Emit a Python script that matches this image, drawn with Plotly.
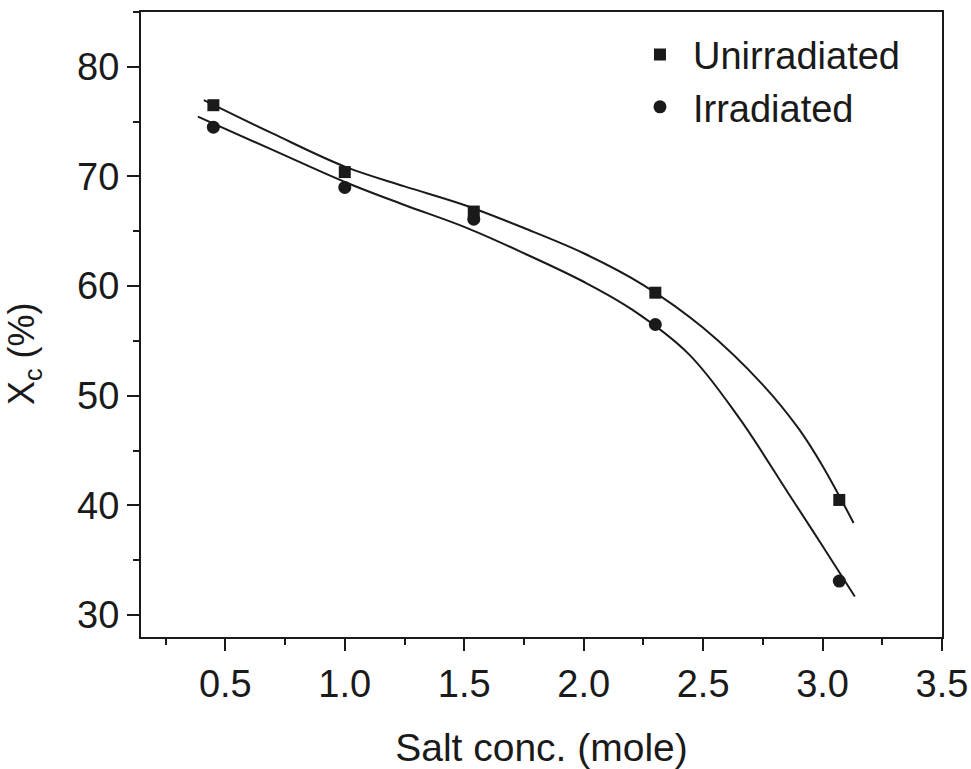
import plotly.graph_objects as go

# measured data points
salt_x = [0.45, 1.0, 1.54, 2.3, 3.07]
unirr_y = [76.5, 70.4, 66.8, 59.4, 40.5]
irr_y = [74.5, 69.0, 66.1, 56.5, 33.1]

# fitted curves
fit_unirr_x = [0.41, 0.7, 1.0, 1.25, 1.5, 1.75, 2.0, 2.25, 2.5, 2.75, 2.9, 3.0, 3.13]
fit_unirr_y = [76.97, 73.9, 70.9, 69.1, 67.4, 65.3, 63.0, 60.1, 56.2, 51.0, 47.0, 43.6, 38.4]
fit_irr_x = [0.385, 0.7, 1.0, 1.25, 1.5, 1.75, 2.0, 2.2, 2.44, 2.65, 2.86, 3.0, 3.135]
fit_irr_y = [75.45, 72.4, 69.5, 67.4, 65.4, 63.0, 60.4, 57.9, 53.8, 48.0, 41.0, 36.3, 31.7]

x_ticks = [0.5, 1.0, 1.5, 2.0, 2.5, 3.0, 3.5]
y_ticks = [30, 40, 50, 60, 70, 80]

FONT = "Liberation Sans, Arial, Helvetica, sans-serif"
INK = "#1a1a1a"

fig = go.Figure()
fig.add_trace(go.Scatter(x=fit_unirr_x, y=fit_unirr_y, mode="lines",
                         line=dict(color=INK, width=2, shape="spline", smoothing=1.0),
                         showlegend=False, hoverinfo="skip"))
fig.add_trace(go.Scatter(x=fit_irr_x, y=fit_irr_y, mode="lines",
                         line=dict(color=INK, width=2, shape="spline", smoothing=1.0),
                         showlegend=False, hoverinfo="skip"))
fig.add_trace(go.Scatter(x=salt_x, y=unirr_y, mode="markers", name="Unirradiated",
                         marker=dict(symbol="square", size=12, color=INK)))
fig.add_trace(go.Scatter(x=salt_x, y=irr_y, mode="markers", name="Irradiated",
                         marker=dict(symbol="circle", size=13, color=INK)))

axis_common = dict(showline=True, linecolor=INK, linewidth=2, mirror=True,
                   ticks="outside", ticklen=12, tickwidth=2, tickcolor=INK,
                   showgrid=False, zeroline=False, automargin=False,
                   tickfont=dict(family=FONT, size=38, color=INK))

fig.update_xaxes(range=[0.147, 3.5], tickmode="array", tickvals=x_ticks,
                 ticktext=[f"{v:.1f}" for v in x_ticks],
                 minor=dict(dtick=0.25, tick0=0, ticks="outside", ticklen=6, tickwidth=2, tickcolor=INK),
                 title=dict(text="Salt conc. (mole)", font=dict(family=FONT, size=39, color=INK), standoff=31),
                 **axis_common)
fig.update_yaxes(range=[28, 85], tickmode="array", tickvals=y_ticks,
                 minor=dict(dtick=5, tick0=0, ticks="outside", ticklen=6, tickwidth=2, tickcolor=INK),
                 **axis_common)

fig.add_annotation(text="X<sub>c</sub> (%)", xref="paper", yref="paper",
                   x=-0.146, y=0.4528, xanchor="center", yanchor="middle",
                   textangle=-90, showarrow=False,
                   font=dict(family=FONT, size=36, color=INK))

fig.update_layout(width=971, height=769,
                  margin=dict(l=141, r=29, t=12, b=132),
                  plot_bgcolor="white", paper_bgcolor="white",
                  legend=dict(x=0.6067, y=0.982, xanchor="left", yanchor="top",
                              font=dict(family=FONT, size=38, color=INK),
                              bgcolor="rgba(0,0,0,0)", itemwidth=56, tracegroupgap=0))

fig.write_html("out.html")
